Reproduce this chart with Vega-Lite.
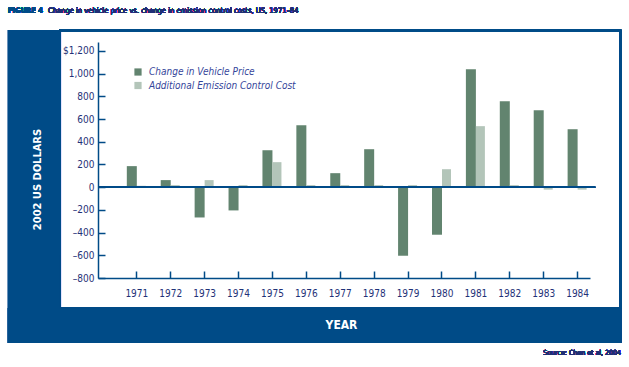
{
  "$schema": "https://vega.github.io/schema/vega-lite/v6.json",
  "width": 492,
  "height": 236,
  "autosize": {"type": "none"},
  "padding": {"left": 98, "top": 42, "right": 39, "bottom": 89},
  "background": "white",
  "config": {
    "view": {"stroke": null},
    "font": "DejaVu Sans Condensed",
    "axis": {"grid": false, "zindex": 1, "domainColor": "#004b87", "domainWidth": 1.5, "tickColor": "#004b87", "tickWidth": 1.5, "labelColor": "#1f3278", "labelFont": "DejaVu Sans Condensed", "titleFont": "DejaVu Sans Condensed", "labelOverlap": false, "labelBound": false}
  },
  "data": {
    "values": [
      {"year": 1971, "series": "Change in Vehicle Price", "value": 185},
      {"year": 1972, "series": "Change in Vehicle Price", "value": 62},
      {"year": 1973, "series": "Change in Vehicle Price", "value": -267},
      {"year": 1974, "series": "Change in Vehicle Price", "value": -205},
      {"year": 1975, "series": "Change in Vehicle Price", "value": 325},
      {"year": 1976, "series": "Change in Vehicle Price", "value": 545},
      {"year": 1977, "series": "Change in Vehicle Price", "value": 123},
      {"year": 1978, "series": "Change in Vehicle Price", "value": 334},
      {"year": 1979, "series": "Change in Vehicle Price", "value": -604},
      {"year": 1980, "series": "Change in Vehicle Price", "value": -419},
      {"year": 1981, "series": "Change in Vehicle Price", "value": 1038},
      {"year": 1982, "series": "Change in Vehicle Price", "value": 756},
      {"year": 1983, "series": "Change in Vehicle Price", "value": 677},
      {"year": 1984, "series": "Change in Vehicle Price", "value": 510},
      {"year": 1971, "series": "Additional Emission Control Cost", "value": 12},
      {"year": 1972, "series": "Additional Emission Control Cost", "value": 18},
      {"year": 1973, "series": "Additional Emission Control Cost", "value": 62},
      {"year": 1974, "series": "Additional Emission Control Cost", "value": 18},
      {"year": 1975, "series": "Additional Emission Control Cost", "value": 220},
      {"year": 1976, "series": "Additional Emission Control Cost", "value": 18},
      {"year": 1977, "series": "Additional Emission Control Cost", "value": 18},
      {"year": 1978, "series": "Additional Emission Control Cost", "value": 18},
      {"year": 1979, "series": "Additional Emission Control Cost", "value": 18},
      {"year": 1980, "series": "Additional Emission Control Cost", "value": 158},
      {"year": 1981, "series": "Additional Emission Control Cost", "value": 537},
      {"year": 1982, "series": "Additional Emission Control Cost", "value": 18},
      {"year": 1983, "series": "Additional Emission Control Cost", "value": -22},
      {"year": 1984, "series": "Additional Emission Control Cost", "value": -22}
    ]
  },
  "encoding": {
    "x": {"field": "year", "type": "quantitative",
      "scale": {"domain": [1969.87, 1984.38], "nice": false, "zero": false, "padding": 0},
      "axis": {"zindex": 1, "values": [1971,1972,1973,1974,1975,1976,1977,1978,1979,1980,1981,1982,1983,1984], "format": "d", "tickSize": -7, "labelPadding": 17, "labelFontSize": 10, "labelBaseline": "top", "labelOverlap": false,
        "title": "YEAR", "titleColor": "white", "titleFontSize": 12, "titleFontWeight": "bold", "titleX": 243, "titleY": 46, "titleBaseline": "middle", "titleAnchor": null, "titleAlign": "center"}},
    "y": {"field": "value", "type": "quantitative",
      "scale": {"domain": [-800, 1278], "nice": false, "zero": false, "padding": 0},
      "axis": {"zindex": 1, "values": [-800,-600,-400,-200,0,200,400,600,800,1000,1200], "tickSize": -7, "labelPadding": 11, "labelFontSize": 10, "labelOverlap": false,
        "labelExpr": "datum.value == 1200 ? '$1,200' : replace(format(datum.value, ','), '−', '–')",
        "title": "2002 US DOLLARS", "titleColor": "white", "titleFontSize": 11, "titleFontWeight": "bold", "titleX": -61, "titleY": 137, "titleAngle": -90, "titleAlign": "center", "titleBaseline": "middle", "titleAnchor": null}}
  },
  "layer": [
    {
      "mark": {"type": "rect", "color": "#004b87", "clip": false},
      "encoding": {
        "x": {"datum": 1967.215, "type": "quantitative",
          "axis": {"zindex": 1, "values": [1971,1972,1973,1974,1975,1976,1977,1978,1979,1980,1981,1982,1983,1984], "format": "d", "tickSize": -7, "labelPadding": 17, "labelFontSize": 10, "labelBaseline": "top", "labelOverlap": false,
            "title": "YEAR", "titleColor": "white", "titleFontSize": 12, "titleFontWeight": "bold", "titleX": 243, "titleY": 46, "titleBaseline": "middle", "titleAnchor": null, "titleAlign": "center"}},
        "x2": {"datum": 1968.779},
        "y": {"datum": 1383.7, "type": "quantitative",
          "axis": {"zindex": 1, "values": [-800,-600,-400,-200,0,200,400,600,800,1000,1200], "tickSize": -7, "labelPadding": 11, "labelFontSize": 10, "labelOverlap": false,
            "labelExpr": "datum.value == 1200 ? '$1,200' : replace(format(datum.value, ','), '−', '–')",
            "title": "2002 US DOLLARS", "titleColor": "white", "titleFontSize": 11, "titleFontWeight": "bold", "titleX": -61, "titleY": 137, "titleAngle": -90, "titleAlign": "center", "titleBaseline": "middle", "titleAnchor": null}},
        "y2": {"datum": -1372}
      }
    },
    {
      "mark": {"type": "rect", "color": "#004b87", "clip": false},
      "encoding": {
        "x": {"datum": 1967.215, "type": "quantitative",
          "axis": {"zindex": 1, "values": [1971,1972,1973,1974,1975,1976,1977,1978,1979,1980,1981,1982,1983,1984], "format": "d", "tickSize": -7, "labelPadding": 17, "labelFontSize": 10, "labelBaseline": "top", "labelOverlap": false,
            "title": "YEAR", "titleColor": "white", "titleFontSize": 12, "titleFontWeight": "bold", "titleX": 243, "titleY": 46, "titleBaseline": "middle", "titleAnchor": null, "titleAlign": "center"}},
        "x2": {"datum": 1985.298},
        "y": {"datum": -1064, "type": "quantitative",
          "axis": {"zindex": 1, "values": [-800,-600,-400,-200,0,200,400,600,800,1000,1200], "tickSize": -7, "labelPadding": 11, "labelFontSize": 10, "labelOverlap": false,
            "labelExpr": "datum.value == 1200 ? '$1,200' : replace(format(datum.value, ','), '−', '–')",
            "title": "2002 US DOLLARS", "titleColor": "white", "titleFontSize": 11, "titleFontWeight": "bold", "titleX": -61, "titleY": 137, "titleAngle": -90, "titleAlign": "center", "titleBaseline": "middle", "titleAnchor": null}},
        "y2": {"datum": -1372}
      }
    },
    {
      "mark": {"type": "rect", "fill": null, "stroke": "#004b87", "strokeWidth": 1.5, "clip": false},
      "encoding": {
        "x": {"datum": 1968.75, "type": "quantitative",
          "axis": {"zindex": 1, "values": [1971,1972,1973,1974,1975,1976,1977,1978,1979,1980,1981,1982,1983,1984], "format": "d", "tickSize": -7, "labelPadding": 17, "labelFontSize": 10, "labelBaseline": "top", "labelOverlap": false,
            "title": "YEAR", "titleColor": "white", "titleFontSize": 12, "titleFontWeight": "bold", "titleX": 243, "titleY": 46, "titleBaseline": "middle", "titleAnchor": null, "titleAlign": "center"}},
        "x2": {"datum": 1985.28},
        "y": {"datum": 1379, "type": "quantitative",
          "axis": {"zindex": 1, "values": [-800,-600,-400,-200,0,200,400,600,800,1000,1200], "tickSize": -7, "labelPadding": 11, "labelFontSize": 10, "labelOverlap": false,
            "labelExpr": "datum.value == 1200 ? '$1,200' : replace(format(datum.value, ','), '−', '–')",
            "title": "2002 US DOLLARS", "titleColor": "white", "titleFontSize": 11, "titleFontWeight": "bold", "titleX": -61, "titleY": 137, "titleAngle": -90, "titleAlign": "center", "titleBaseline": "middle", "titleAnchor": null}},
        "y2": {"datum": -1064}
      }
    },
    {
      "transform": [{"filter": "datum.series == 'Change in Vehicle Price'"}],
      "mark": {"type": "bar", "width": 10, "xOffset": -4.5},
      "encoding": {
        "color": {
          "field": "series", "type": "nominal",
          "scale": {"domain": ["Change in Vehicle Price", "Additional Emission Control Cost"], "range": ["#62846f", "#b3c5b9"]},
          "legend": {"title": null, "orient": "none", "legendX": 35, "legendY": 25, "symbolType": "square", "symbolSize": 52, "symbolStrokeWidth": 0, "labelFontSize": 10, "labelFontStyle": "italic", "labelColor": "#34459a", "labelOffset": 6, "rowPadding": 3.5, "labelFont": "DejaVu Sans Condensed"}
        }
      }
    },
    {
      "transform": [{"filter": "datum.series == 'Additional Emission Control Cost'"}],
      "mark": {"type": "bar", "width": 9, "xOffset": 5},
      "encoding": {
        "color": {"field": "series", "type": "nominal"}
      }
    },
    {
      "mark": {"type": "rule", "color": "#004b87", "strokeWidth": 1.5},
      "encoding": {
        "x": {"datum": 1969.87, "type": "quantitative",
          "axis": {"zindex": 1, "values": [1971,1972,1973,1974,1975,1976,1977,1978,1979,1980,1981,1982,1983,1984], "format": "d", "tickSize": -7, "labelPadding": 17, "labelFontSize": 10, "labelBaseline": "top", "labelOverlap": false,
            "title": "YEAR", "titleColor": "white", "titleFontSize": 12, "titleFontWeight": "bold", "titleX": 243, "titleY": 46, "titleBaseline": "middle", "titleAnchor": null, "titleAlign": "center"}},
        "x2": {"datum": 1984.53},
        "y": {"datum": 0, "type": "quantitative",
          "axis": {"zindex": 1, "values": [-800,-600,-400,-200,0,200,400,600,800,1000,1200], "tickSize": -7, "labelPadding": 11, "labelFontSize": 10, "labelOverlap": false,
            "labelExpr": "datum.value == 1200 ? '$1,200' : replace(format(datum.value, ','), '−', '–')",
            "title": "2002 US DOLLARS", "titleColor": "white", "titleFontSize": 11, "titleFontWeight": "bold", "titleX": -61, "titleY": 137, "titleAngle": -90, "titleAlign": "center", "titleBaseline": "middle", "titleAnchor": null}}
      }
    },
    {
      "mark": {"type": "text", "align": "left", "baseline": "alphabetic", "font": "DejaVu Sans Condensed", "fontWeight": "bold", "fontSize": 7.5, "letterSpacing": 0.5, "color": "#004b87", "clip": false},
      "encoding": {
        "x": {"datum": 1967.215, "type": "quantitative",
          "axis": {"zindex": 1, "values": [1971,1972,1973,1974,1975,1976,1977,1978,1979,1980,1981,1982,1983,1984], "format": "d", "tickSize": -7, "labelPadding": 17, "labelFontSize": 10, "labelBaseline": "top", "labelOverlap": false,
            "title": "YEAR", "titleColor": "white", "titleFontSize": 12, "titleFontWeight": "bold", "titleX": 243, "titleY": 46, "titleBaseline": "middle", "titleAnchor": null, "titleAlign": "center"}},
        "y": {"datum": 1529, "type": "quantitative",
          "axis": {"zindex": 1, "values": [-800,-600,-400,-200,0,200,400,600,800,1000,1200], "tickSize": -7, "labelPadding": 11, "labelFontSize": 10, "labelOverlap": false,
            "labelExpr": "datum.value == 1200 ? '$1,200' : replace(format(datum.value, ','), '−', '–')",
            "title": "2002 US DOLLARS", "titleColor": "white", "titleFontSize": 11, "titleFontWeight": "bold", "titleX": -61, "titleY": 137, "titleAngle": -90, "titleAlign": "center", "titleBaseline": "middle", "titleAnchor": null}},
        "text": {"value": "FIGURE 4"}
      }
    },
    {
      "mark": {"type": "text", "align": "left", "baseline": "alphabetic", "font": "DejaVu Sans Condensed", "fontSize": 7.5, "color": "#1f2f75", "clip": false},
      "encoding": {
        "x": {"datum": 1968.395, "type": "quantitative",
          "axis": {"zindex": 1, "values": [1971,1972,1973,1974,1975,1976,1977,1978,1979,1980,1981,1982,1983,1984], "format": "d", "tickSize": -7, "labelPadding": 17, "labelFontSize": 10, "labelBaseline": "top", "labelOverlap": false,
            "title": "YEAR", "titleColor": "white", "titleFontSize": 12, "titleFontWeight": "bold", "titleX": 243, "titleY": 46, "titleBaseline": "middle", "titleAnchor": null, "titleAlign": "center"}},
        "y": {"datum": 1529, "type": "quantitative",
          "axis": {"zindex": 1, "values": [-800,-600,-400,-200,0,200,400,600,800,1000,1200], "tickSize": -7, "labelPadding": 11, "labelFontSize": 10, "labelOverlap": false,
            "labelExpr": "datum.value == 1200 ? '$1,200' : replace(format(datum.value, ','), '−', '–')",
            "title": "2002 US DOLLARS", "titleColor": "white", "titleFontSize": 11, "titleFontWeight": "bold", "titleX": -61, "titleY": 137, "titleAngle": -90, "titleAlign": "center", "titleBaseline": "middle", "titleAnchor": null}},
        "text": {"value": "Change in vehicle price vs. change in emission control costs, US, 1971–84"}
      }
    },
    {
      "mark": {"type": "text", "align": "right", "baseline": "alphabetic", "font": "DejaVu Sans Condensed", "fontSize": 7, "color": "#1f2f75", "clip": false},
      "encoding": {
        "x": {"datum": 1985.298, "type": "quantitative",
          "axis": {"zindex": 1, "values": [1971,1972,1973,1974,1975,1976,1977,1978,1979,1980,1981,1982,1983,1984], "format": "d", "tickSize": -7, "labelPadding": 17, "labelFontSize": 10, "labelBaseline": "top", "labelOverlap": false,
            "title": "YEAR", "titleColor": "white", "titleFontSize": 12, "titleFontWeight": "bold", "titleX": 243, "titleY": 46, "titleBaseline": "middle", "titleAnchor": null, "titleAlign": "center"}},
        "y": {"datum": -1478, "type": "quantitative",
          "axis": {"zindex": 1, "values": [-800,-600,-400,-200,0,200,400,600,800,1000,1200], "tickSize": -7, "labelPadding": 11, "labelFontSize": 10, "labelOverlap": false,
            "labelExpr": "datum.value == 1200 ? '$1,200' : replace(format(datum.value, ','), '−', '–')",
            "title": "2002 US DOLLARS", "titleColor": "white", "titleFontSize": 11, "titleFontWeight": "bold", "titleX": -61, "titleY": 137, "titleAngle": -90, "titleAlign": "center", "titleBaseline": "middle", "titleAnchor": null}},
        "text": {"value": "Source: Chen et al, 2004"}
      }
    }
  ]
}
